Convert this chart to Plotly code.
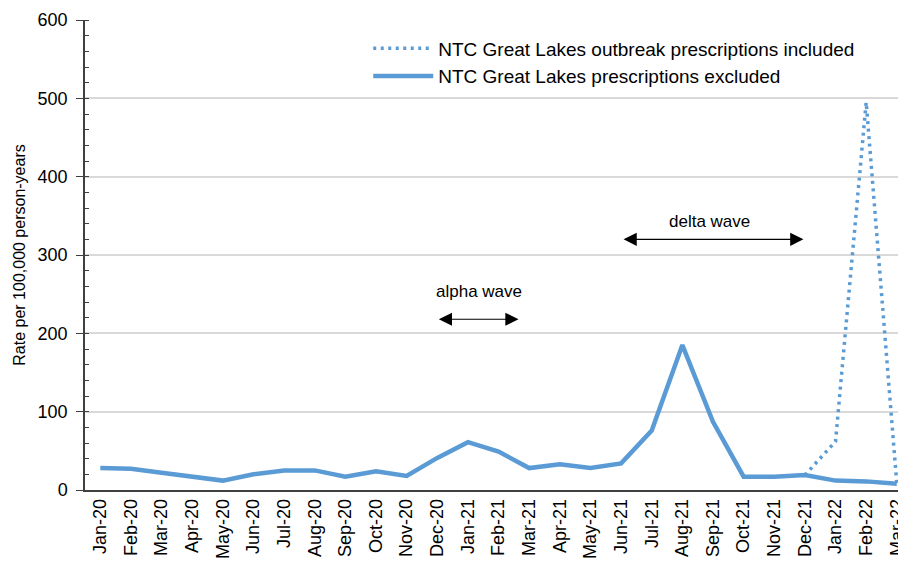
import plotly.graph_objects as go

months = ["Jan-20","Feb-20","Mar-20","Apr-20","May-20","Jun-20","Jul-20","Aug-20","Sep-20","Oct-20","Nov-20","Dec-20",
          "Jan-21","Feb-21","Mar-21","Apr-21","May-21","Jun-21","Jul-21","Aug-21","Sep-21","Oct-21","Nov-21","Dec-21",
          "Jan-22","Feb-22","Mar-22"]
excluded = [28, 27, 22, 17, 12, 20, 25, 25, 17, 24, 18, 41,
            61, 49, 28, 33, 28, 34, 76, 185, 87, 17, 17, 19,
            12, 11, 8]
included = [None]*23 + [19, 62, 495, 8]

blue = "#5B9BD5"
font = "Liberation Sans, Arial, sans-serif"

fig = go.Figure()
fig.add_trace(go.Scatter(x=months, y=included, mode="lines", name="NTC Great Lakes outbreak prescriptions included",
                         line=dict(color=blue, width=3.5, dash="3px,4.5px"), connectgaps=False))
fig.add_trace(go.Scatter(x=months, y=excluded, mode="lines", name="NTC Great Lakes prescriptions excluded",
                         line=dict(color=blue, width=4.5)))

# wave annotations
fig.add_annotation(x=11.05, y=218, ax=13.7, ay=218, xref="x", yref="y", axref="x", ayref="y",
                   text="", showarrow=True, arrowhead=2, arrowside="end+start", arrowsize=2.2, arrowwidth=1.2, arrowcolor="black")
fig.add_annotation(x=12.35, y=254, xref="x", yref="y", text="alpha wave", showarrow=False,
                   font=dict(family=font, size=17, color="black"))
fig.add_annotation(x=17.08, y=320, ax=23.0, ay=320, xref="x", yref="y", axref="x", ayref="y",
                   text="", showarrow=True, arrowhead=2, arrowside="end+start", arrowsize=2.2, arrowwidth=1.2, arrowcolor="black")
fig.add_annotation(x=19.9, y=343, xref="x", yref="y", text="delta wave", showarrow=False,
                   font=dict(family=font, size=17, color="black"))

fig.update_layout(
    width=898, height=553,
    margin=dict(l=77, r=0, t=12, b=71),
    paper_bgcolor="white", plot_bgcolor="white",
    font=dict(family=font, size=18, color="black"),
    showlegend=True,
    legend=dict(x=0.345, y=0.980, xanchor="left", yanchor="top", bgcolor="rgba(0,0,0,0)",
                font=dict(family=font, size=19, color="black"), itemwidth=60, tracegroupgap=0),
    xaxis=dict(range=[-0.5, 26.3], tickangle=-90, showgrid=False, showline=True, linecolor="#404040", linewidth=1.5,
               ticks="", tickfont=dict(family=font, size=18), fixedrange=True, automargin=False,
               ticklabeloverflow="allow"),
    yaxis=dict(range=[0, 600], dtick=100, showgrid=True, gridcolor="#D9D9D9", gridwidth=1.5,
               showline=True, linecolor="#404040", linewidth=1.5, ticks="outside", ticklen=7, tickcolor="#404040",
               minor=dict(dtick=20, ticks="inside", ticklen=4, tickcolor="#404040", showgrid=False),
               tickfont=dict(family=font, size=18), zeroline=False, automargin=False, ticklabelstandoff=5,
               title=dict(text="Rate per 100,000 person-years", font=dict(family=font, size=16), standoff=8)),
)

fig.write_html("out.html")
